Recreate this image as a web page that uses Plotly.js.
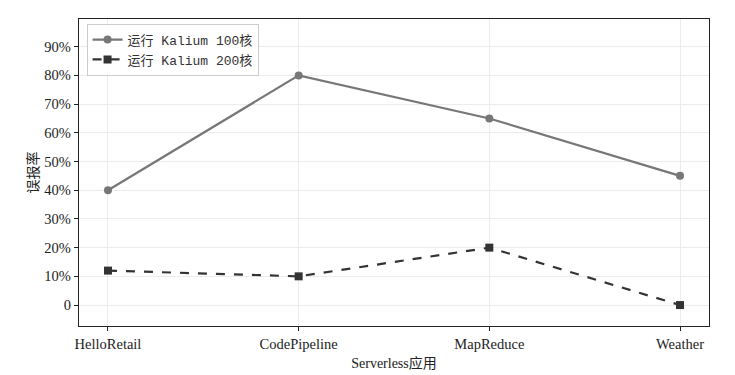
<!DOCTYPE html>
<html><head><meta charset="utf-8">
<script src="https://cdn.plot.ly/plotly-3.0.1.min.js"></script>
<style>body{margin:0;background:#fff}#c{width:735px;height:375px}</style>
</head><body><div id="c"></div>
<script>
const apps = ["HelloRetail","CodePipeline","MapReduce","Weather"];
const k100 = [0.40, 0.80, 0.65, 0.45];
const k200 = [0.12, 0.10, 0.20, 0.00];
const yTickVals = [0,0.1,0.2,0.3,0.4,0.5,0.6,0.7,0.8,0.9];
const yTickText = ["0","10%","20%","30%","40%","50%","60%","70%","80%","90%"];
const names = ["运行 Kalium 100核","运行 Kalium 200核"];

const traces = [
 {x:[0,1,2,3], y:k100, name:names[0], mode:"lines+markers",
  line:{color:"#777777",width:2.2}, marker:{symbol:"circle",size:8,color:"#777777"}},
 {x:[0,1,2,3], y:k200, name:names[1], mode:"lines+markers",
  line:{color:"#333333",width:2.2,dash:"dash"}, marker:{symbol:"square",size:8,color:"#333333"}}
];
const layout = {
  width:735,height:375,
  margin:{l:79,r:26,t:19,b:49},
  paper_bgcolor:"#fff",plot_bgcolor:"#fff",
  font:{family:"Liberation Serif, 'Noto Sans CJK SC', serif",size:14.5,color:"#222"},
  xaxis:{range:[-0.152,3.152],tickvals:[0,1,2,3],ticktext:apps,
    showgrid:true,gridcolor:"#ececec",gridwidth:1,zeroline:false,
    showline:true,mirror:true,linecolor:"#222",linewidth:1.2,
    ticks:"outside",ticklen:4,tickcolor:"#222",
    title:{text:"Serverless应用",standoff:7,font:{size:14}}},
  yaxis:{range:[-0.073,0.9965],tickvals:yTickVals,ticktext:yTickText,
    showgrid:true,gridcolor:"#ececec",gridwidth:1,zeroline:false,
    showline:true,mirror:true,linecolor:"#222",linewidth:1.2,
    ticks:"outside",ticklen:4,tickcolor:"#222",
    title:{text:"误报率",standoff:2,font:{size:14}}},
  legend:{x:0.012,y:0.985,xanchor:"left",yanchor:"top",
    bgcolor:"rgba(255,255,255,0.9)",bordercolor:"#cccccc",borderwidth:1,
    font:{family:"Liberation Mono, 'Noto Sans CJK SC', monospace",size:13,color:"#333"},
    tracegroupgap:0},
  showlegend:true
};
Plotly.newPlot("c",traces,layout,{displayModeBar:false,staticPlot:true});
</script></body></html>
